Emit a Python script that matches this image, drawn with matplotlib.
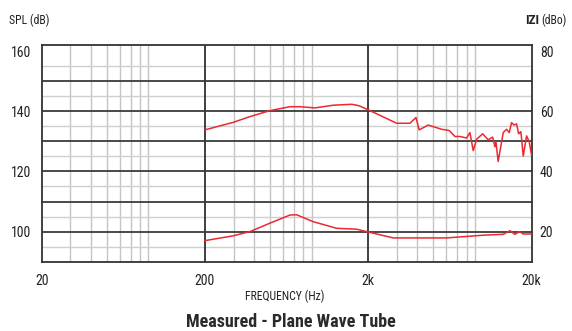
import matplotlib
matplotlib.use("Agg")
import matplotlib.pyplot as plt
from matplotlib import font_manager as fm
from matplotlib.ticker import FixedLocator, NullFormatter
import numpy as np

# ---- data ----
spl_freq = [200, 298, 377, 500, 663, 764, 944, 1222, 1582, 1698, 1779, 2048, 2986, 3600,
            3920, 4103, 4660, 5625, 6266, 6793, 7284, 8005, 8392, 8792, 9226, 10036,
            10862, 11556, 11940, 12107, 12500, 13420, 14078, 14600, 15100, 15660, 16200,
            16680, 17220, 17800, 18660, 19360, 20000]
spl_db = [133.8, 136.3, 138.2, 140.2, 141.5, 141.5, 141.1, 142.0, 142.3, 142.0, 141.7, 140.2,
          136.0, 136.0, 137.9, 133.8, 135.4, 134.0, 133.6, 131.6, 131.6, 131.1, 132.9,
          126.9, 130.7, 132.5, 130.5, 131.4, 128.2, 129.9, 123.3, 132.9, 134.0, 132.9,
          136.2, 135.4, 135.8, 132.5, 133.2, 125.1, 131.8, 129.9, 125.5]

imp_freq = [200, 298, 377, 500, 663, 728, 920, 1281, 1698, 1956, 2846, 6040, 10120,
            13420, 14760, 15800, 16920, 17800, 19600, 20000]
imp_dbo = [17.0, 18.6, 20.0, 22.8, 25.5, 25.6, 23.3, 21.1, 20.8, 20.0, 17.9, 17.9, 18.8,
           19.1, 20.3, 19.1, 20.0, 19.2, 19.2, 19.2]

x_ticks = [20, 200, 2000, 20000]
x_tick_labels = ["20", "200", "2k", "20k"]
left_ticks = [100, 120, 140, 160]
right_ticks = [20, 40, 60, 80]


# ---- pick a condensed font if one is installed ----
def find_condensed(bold):
    pref = ["Liberation Sans Narrow", "Roboto Condensed", "Open Sans Condensed",
            "Noto Sans", "Open Sans", "Roboto", "DejaVu Sans"]
    best = None
    for f in fm.fontManager.ttflist:
        cond = ("Narrow" in f.name or "Condensed" in f.name or "condensed" in str(f.stretch)
                or "Condensed" in f.fname or "Narrow" in f.fname)
        if not cond or "Extra" in f.fname or "Semi" in f.fname or "Italic" in f.fname:
            continue
        w = f.weight if isinstance(f.weight, int) else (700 if "bold" in str(f.weight) else 400)
        isbold = w >= 600
        if isbold != bold:
            continue
        if "Black" in f.fname or "Light" in f.fname or "Thin" in f.fname or "Medium" in f.fname:
            continue
        rank = next((i for i, p in enumerate(pref) if f.name.startswith(p)), len(pref))
        if best is None or rank < best[0]:
            best = (rank, f.fname)
    return best[1] if best else None


reg_path = find_condensed(False)
bold_path = find_condensed(True)
if reg_path:
    FP = fm.FontProperties(fname=reg_path)
else:
    FP = fm.FontProperties(family="Liberation Sans")
if bold_path:
    FPB = fm.FontProperties(fname=bold_path)
else:
    FPB = fm.FontProperties(family="Liberation Sans", weight="bold")


def fp(base, size):
    p = base.copy()
    p.set_size(size)
    return p


TXT = "#222222"
RED = "#ec2830"

fig = plt.figure(figsize=(5.72, 3.31), dpi=100)
ax = fig.add_axes([41.7 / 572, 1 - 261.7 / 331, (531.5 - 41.7) / 572, (261.7 - 45) / 331])

ax.set_xscale("log")
ax.set_xlim(20, 20000)
ax.set_ylim(90, 162)

# grid
minor_x = [m * 10 ** d for d in range(1, 4) for m in range(2, 10) if 20 < m * 10 ** d < 20000]
minor_x = [v for v in minor_x if v not in (200, 2000)]
for v in minor_x:
    ax.axvline(v, color="#c4c4c4", lw=1.0, zorder=1)
for v in [200, 2000]:
    ax.axvline(v, color="#303030", lw=1.3, zorder=2)
for v in np.arange(95, 160, 10):
    ax.axhline(v, color="#cfcfcf", lw=1.0, zorder=1)
for v in np.arange(100, 151, 10):
    ax.axhline(v, color="#3a3a3a", lw=1.3, zorder=2)

ax.plot(spl_freq, spl_db, color=RED, lw=1.1, zorder=5)
ax.plot(imp_freq, [v + 80 for v in imp_dbo], color=RED, lw=1.1, zorder=5)

for s in ax.spines.values():
    s.set_color("#333333")
    s.set_linewidth(1.3)

ax.xaxis.set_major_locator(FixedLocator(x_ticks))
ax.set_xticklabels(x_tick_labels)
ax.xaxis.set_minor_locator(FixedLocator([]))
ax.xaxis.set_minor_formatter(NullFormatter())
ax.set_yticks(left_ticks)
ax.tick_params(axis="both", length=0, colors=TXT)
ax.tick_params(axis="x", pad=9)
ax.tick_params(axis="y", pad=7.5)
for lab in ax.get_xticklabels() + ax.get_yticklabels():
    lab.set_fontproperties(fp(FP, 10))

ax2 = ax.twinx()
ax2.set_ylim(90 - 80, 162 - 80)
ax2.set_yticks(right_ticks)
ax2.tick_params(axis="y", length=0, colors=TXT, pad=6)
for lab in ax2.get_yticklabels():
    lab.set_fontproperties(fp(FP, 10))
for s in ax2.spines.values():
    s.set_visible(False)

fig.text(9 / 572, 1 - 20 / 331, "SPL (dB)", fontproperties=fp(FP, 8.5), color=TXT, va="center", ha="left")
fig.text(539 / 572, 1 - 20 / 331, "IZI", fontproperties=fp(FPB, 9.5), color=TXT, va="center", ha="right")
fig.text(541 / 572, 1 - 20 / 331, "(dBo)", fontproperties=fp(FP, 8.5), color=TXT, va="center", ha="left")

fig.text(285 / 572, 1 - 296.5 / 331, "FREQUENCY (Hz)", fontproperties=fp(FP, 8.5), color=TXT,
         va="center", ha="center")
fig.text(291 / 572, 1 - 322 / 331, "Measured - Plane Wave Tube", fontproperties=fp(FPB, 13),
         color="#2a2a2a", va="center", ha="center")

fig.savefig("out.png", dpi=100)
